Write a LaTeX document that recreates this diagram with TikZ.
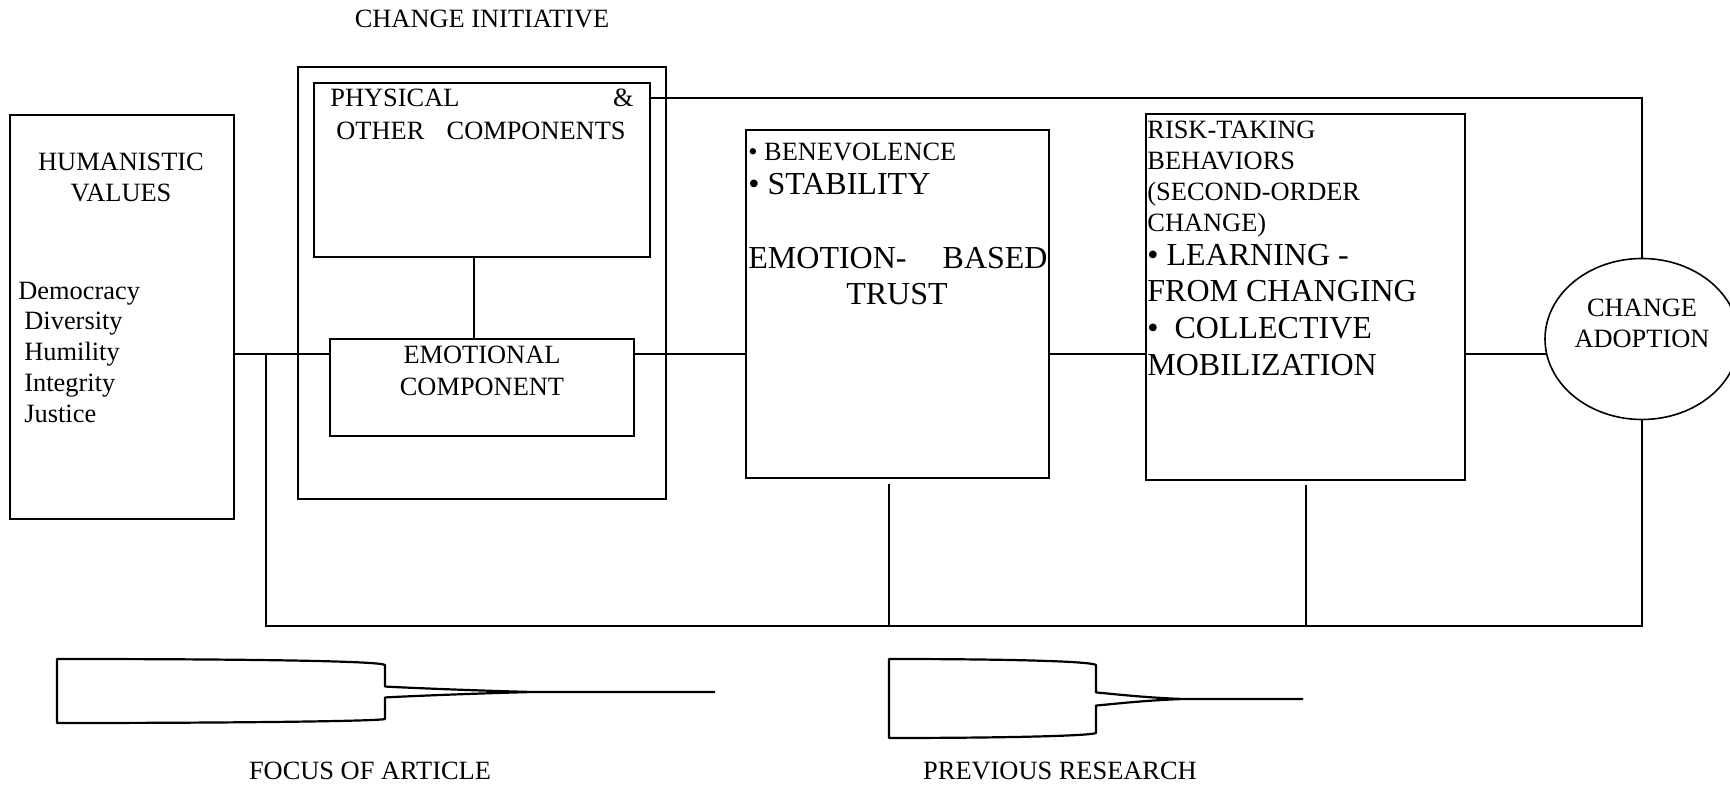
\documentclass[tikz,border=0pt]{standalone}
\usepackage{fontspec}
\setmainfont{Liberation Serif}
\usetikzlibrary{shapes.geometric}
\begin{document}
\begin{tikzpicture}[x=0.5pt,y=-0.5pt,
  box/.style={draw, line width=0.6pt, inner sep=0, outer sep=0},
  conn/.style={line width=0.9pt},
  txt/.style={inner sep=0, font=\fontsize{13.2}{15.5}\selectfont, text height=0.92em, text depth=0.02em},
  big/.style={inner sep=0, font=\fontsize{16}{19}\selectfont, text height=0.92em, text depth=0.02em},
  shp/.style={line width=1.1pt, line join=round}]
\useasboundingbox (0,0) rectangle (1730,785);

% boxes
\node[box, minimum width=112pt, minimum height=202pt] (hum) at (122,317) {};
\node[box, line width=1pt, minimum width=184pt, minimum height=216pt] (ci) at (482,283) {};
\node[box, minimum width=168pt, minimum height=87pt] (phys) at (482,170) {};
\node[box, minimum width=152pt, minimum height=48.5pt] (emo) at (482,387.5) {};
\node[box, minimum width=151.5pt, minimum height=174pt] (trust) at (897.5,304) {};
\node[box, minimum width=159.5pt, minimum height=183pt] (risk) at (1305.5,297) {};
\node[draw, ellipse, line width=0.8pt, inner sep=0, outer sep=0, minimum width=97pt, minimum height=80.5pt] (ell) at (1642,339) {};

% texts
\node[txt] (tci) at (482,19) {CHANGE INITIATIVE};
\node[txt] (h1) at (121,162) {HUMANISTIC};
\node[txt] (h2) at (121,193) {VALUES};
\node[txt, anchor=west] (v1) at (18,291) {Democracy};
\node[txt, anchor=west] (v2) at (24,321) {Diversity};
\node[txt, anchor=west] (v3) at (24,352) {Humility};
\node[txt, anchor=west] (v4) at (24,383) {Integrity};
\node[txt, anchor=west] (v5) at (24,414) {Justice};
\node[txt, anchor=west] (p1) at (330,98) {PHYSICAL};
\node[txt, anchor=east] (p2) at (634,98) {\&};
\node[txt, anchor=west] (p3) at (336,131) {OTHER};
\node[txt, anchor=east] (p4) at (626,131) {COMPONENTS};
\node[txt] (e1) at (482,355) {EMOTIONAL};
\node[txt] (e2) at (482,387) {COMPONENT};
\node[txt, anchor=west] (t1) at (748,152) {• BENEVOLENCE};
\node[big, anchor=west] (t2) at (748,186) {• STABILITY};
\node[big, anchor=west] (t3) at (748,260) {EMOTION-};
\node[big, anchor=east] (t4) at (1048,260) {BASED};
\node[big] (t5) at (897,296) {TRUST};
\node[txt, anchor=west] (r1) at (1147,130) {RISK-TAKING};
\node[txt, anchor=west] (r2) at (1147,161) {BEHAVIORS};
\node[txt, anchor=west] (r3) at (1147,192) {(SECOND-ORDER};
\node[txt, anchor=west] (r4) at (1147,223) {CHANGE)};
\node[big, anchor=west] (r5) at (1147,257) {• LEARNING -};
\node[big, anchor=west] (r6) at (1147,293) {FROM CHANGING};
\node[big, anchor=west] (r7) at (1147,330) {•\ \ COLLECTIVE};
\node[big, anchor=west] (r8) at (1147,367) {MOBILIZATION};
\node[txt] (a1) at (1642,308) {CHANGE};
\node[txt] (a2) at (1642,339) {ADOPTION};
\node[txt] (f1) at (370,770) {FOCUS OF ARTICLE};
\node[txt] (f2) at (1060,770) {PREVIOUS RESEARCH};

% connector coordinates
\coordinate (mainy) at (0,354);
\coordinate (topy) at (0,98);
\coordinate (j1) at (266,354);
\coordinate (c1) at (266,626);
\coordinate (c3) at (1642,626);
\coordinate (c4) at (1642,98);
\coordinate (pe1) at (474,257);
\coordinate (pe2) at (474,339);
\coordinate (tb1) at (889,484);
\coordinate (tb2) at (889,626);
\coordinate (rb1) at (1306,485);
\coordinate (rb2) at (1306,626);

% connectors
\draw[conn] (hum.east |- mainy) -- (emo.west |- mainy);
\draw[conn] (emo.east |- mainy) -- (trust.west |- mainy);
\draw[conn] (trust.east |- mainy) -- (risk.west |- mainy);
\draw[conn] (risk.east |- mainy) -- (ell.189);
\draw[conn] (phys.east |- topy) -- (c4) -- (ell.north);
\draw[conn] (j1) -- (c1) -- (c3) -- (ell.south);
\draw[conn] (pe1) -- (pe2);
\draw[conn] (tb1) -- (tb2);
\draw[conn] (rb1) -- (rb2);

% legend shapes
\draw[shp] (533,692) .. controls (470,690.5) and (390,687) .. (385,686.5) -- (385,665)
  .. controls (380,661) and (250,659) .. (57,659) -- (57,723)
  .. controls (250,723) and (380,721) .. (385,719) -- (385,697.5)
  .. controls (390,697) and (470,693.5) .. (533,692) -- (715,692);
\draw[shp] (1183,699) .. controls (1140,697.5) and (1100,692.5) .. (1096,692.5) -- (1096,665)
  .. controls (1090,661) and (1000,659) .. (889,659) -- (889,738)
  .. controls (1000,738) and (1090,736) .. (1096,733) -- (1096,705.5)
  .. controls (1100,705.5) and (1140,700.5) .. (1183,699) -- (1303,699);
\end{tikzpicture}
\end{document}
